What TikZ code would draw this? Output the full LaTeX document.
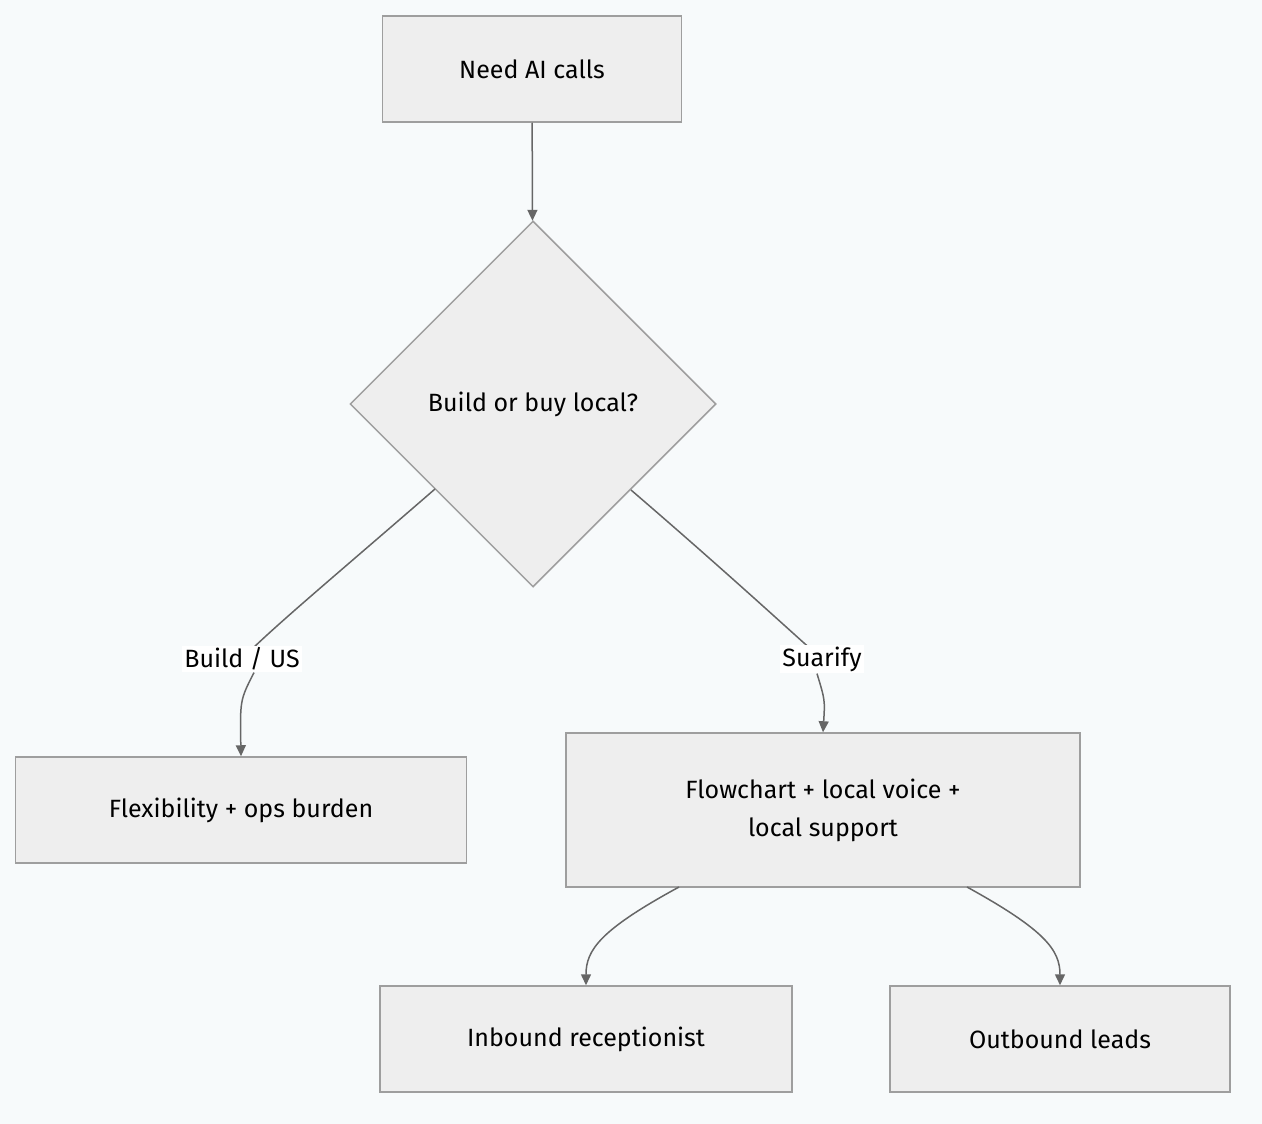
\documentclass[tikz,border=0pt]{standalone}
\usepackage{fontspec}
\setmainfont{Fira Sans}
\usetikzlibrary{shapes.geometric,arrows.meta}
\definecolor{bg}{HTML}{F7FAFB}
\definecolor{nf}{HTML}{EEEEEE}
\definecolor{nb}{HTML}{9E9E9E}
\definecolor{ln}{HTML}{666666}
\begin{document}
\begin{tikzpicture}[x=1pt,y=-1pt,
  box/.style={draw=nb,fill=nf,line width=1.5pt,font=\fontsize{25}{38}\selectfont,align=center,inner sep=0pt},
  lbl/.style={fill=white,font=\fontsize{25}{30}\selectfont,inner sep=2pt},
  conn/.style={draw=ln,line width=1.5pt,-{Triangle[length=11pt,width=10pt]}}]
\fill[bg] (0,0) rectangle (1262,1124);
\useasboundingbox (0,0) rectangle (1262,1124);
\node[box,minimum width=299pt,minimum height=106pt] (a) at (532,69) {Need AI calls};
\node[box,diamond,minimum width=366pt,minimum height=366pt] (d) at (533,404) {Build or buy local?};
\node[box,minimum width=451pt,minimum height=106pt] (f) at (241,810) {Flexibility + ops burden};
\node[box,minimum width=514pt,minimum height=154pt] (s) at (823,810) {Flowchart + local voice +\\local support};
\node[box,minimum width=412pt,minimum height=106pt] (i) at (586,1039) {Inbound receptionist};
\node[box,minimum width=340pt,minimum height=106pt] (o) at (1060,1039) {Outbound leads};
\coordinate (d1) at (435,489);
\coordinate (d2) at (631,490);
\coordinate (s1) at (679,887);
\coordinate (s2) at (967,887);
\draw[conn] (a) -- (d);
\draw[draw=ln,line width=1.5pt] (d1) .. controls (330,580) and (270,630) .. (242,659);
\draw[draw=ln,line width=1.5pt] (d2) .. controls (730,575) and (800,640) .. (822,659);
\node[lbl] (l1) at (242,659) {Build / US};
\node[lbl] (l2) at (822,659) {Suarify};
\draw[conn] (l1.south) ++(12,0) .. controls (240,700) .. (f.north);
\draw[conn] (l2.south) ++(-5,0) .. controls (825,700) .. (s.north);
\draw[conn] (s1) .. controls (600,930) and (586,950) .. (i.north);
\draw[conn] (s2) .. controls (1045,930) and (1060,950) .. (o.north);
\end{tikzpicture}
\end{document}
